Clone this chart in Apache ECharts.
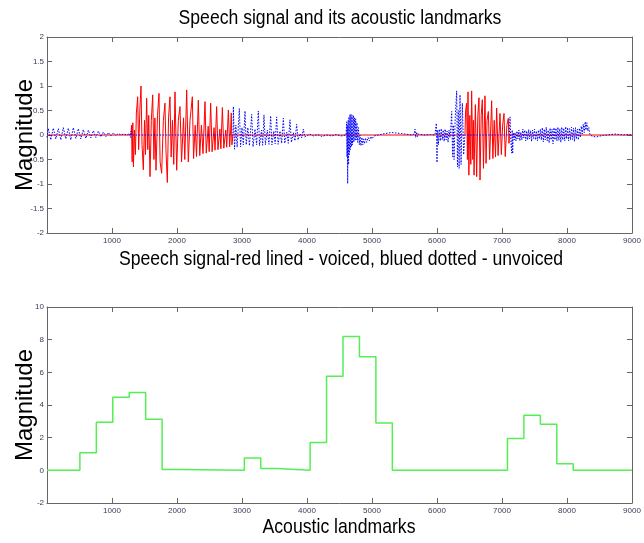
<!DOCTYPE html>
<html lang="en">
<head>
    <meta charset="UTF-8">
    <title>Speech signal and its acoustic landmarks</title>
    <style>
        html, body { margin: 0; padding: 0; background: #fff; }
    </style>
</head>
<body>
    <div id="card" style="width: 644px;height:543px;"></div>
    <script src="https://cdn.jsdelivr.net/npm/echarts@6/dist/echarts.min.js"></script>
    <script>
        // axis ticks
        var xTicks = [0, 1000, 2000, 3000, 4000, 5000, 6000, 7000, 8000, 9000];
        var signalTicks = [-2, -1.5, -1, -0.5, 0, 0.5, 1, 1.5, 2];
        var landmarkTicks = [-2, 0, 2, 4, 6, 8, 10];

        // voiced part of the signal (red line), [sample, magnitude]
        var voiced = [
            [0, 0], [1292, 0],
            [1300, 0.2], [1310, -0.55], [1320, 0.25], [1330, -0.65], [1345, 0.1], [1360, -0.4],
            [1375, 0.45], [1395, 0.78], [1410, -0.3], [1430, 0.55], [1446, 1.0], [1462, -0.2],
            [1482, -0.71], [1500, 0.3], [1515, -0.4], [1533, 0.75], [1550, -0.3], [1565, 0.4],
            [1585, -0.85], [1605, 0.3], [1626, 0.82], [1645, -0.5], [1660, 0.35], [1677, -0.72],
            [1700, 0.4], [1723, 0.85], [1740, -0.55], [1764, -0.78], [1790, 0.3], [1815, 0.65],
            [1830, -0.3], [1851, -0.97], [1870, 0.35], [1892, 0.78], [1910, -0.45], [1930, 0.3],
            [1950, -0.6], [1969, 0.88], [1995, -0.72], [2020, 0.3], [2046, 0.58], [2070, -0.55],
            [2100, 0.35], [2120, -0.5], [2149, 0.92], [2174, -0.55], [2200, 0.3], [2236, 0.78],
            [2255, -0.48], [2280, 0.2], [2300, -0.44], [2328, 0.71], [2350, -0.42], [2375, 0.2],
            [2400, -0.38], [2431, 0.68], [2450, -0.37], [2480, 0.18], [2495, -0.34], [2518, 0.65],
            [2540, -0.34], [2570, 0.15], [2585, -0.31], [2610, 0.58], [2630, -0.3], [2660, 0.12],
            [2675, -0.28], [2698, 0.56], [2720, -0.27], [2750, 0.1], [2765, -0.25], [2790, 0.51],
            [2810, -0.24], [2825, 0.1], [2835, 0.45], [2845, -0.2], [2860, 0],
            [6430, 0],
            [6440, 0.5], [6456, 0.65], [6468, -0.5], [6477, 0.88], [6490, -0.82], [6505, 0.4],
            [6520, -0.6], [6533, 0.9], [6550, -0.5], [6560, 0.3], [6570, -0.82], [6590, 0.62],
            [6610, -0.85], [6628, 0.4], [6646, 0.76], [6662, -0.92], [6680, 0.4], [6697, 0.72],
            [6715, -0.68], [6738, 0.8], [6755, -0.58], [6770, 0.3], [6790, 0.48], [6810, -0.5],
            [6841, 0.7], [6860, -0.48], [6880, 0.3], [6900, -0.45], [6918, 0.55], [6940, -0.42],
            [6969, 0.44], [6990, -0.4], [7010, 0.2], [7031, 0.44], [7050, -0.44], [7075, 0.2],
            [7097, 0.34], [7108, -0.17], [7113, 0],
            [9000, 0]
        ];

        // unvoiced part of the signal (blue dotted), [sample, magnitude]
        var unvoiced = [
            [0, -0.05], [20, 0.13], [58, -0.1], [97, 0.14], [135, -0.08], [174, 0.13], [212, -0.1],
            [251, 0.15], [290, -0.08], [328, 0.14], [366, -0.1], [405, 0.15], [444, -0.07],
            [482, 0.13], [520, -0.08], [559, 0.11], [598, -0.07], [636, 0.1], [675, -0.06],
            [713, 0.09], [752, -0.05], [790, 0.08], [829, -0.04], [867, 0.06], [906, -0.03],
            [944, 0.05], [983, -0.02], [1021, 0.04], [1060, -0.01], [1097, 0.03], [1136, 0],
            [1174, 0.02], [1230, 0], [1270, 0.03], [1285, -0.05], [1292, 0.08], [1300, 0],
            [2862, 0],
            [2867, 0.58], [2885, -0.29], [2905, 0.2], [2925, -0.25], [2959, 0.54], [2978, -0.24],
            [3000, 0.15], [3020, -0.2], [3046, 0.49], [3065, -0.2], [3090, 0.15], [3115, -0.22],
            [3149, 0.42], [3170, -0.24], [3200, 0.12], [3225, -0.2], [3251, 0.49], [3270, -0.22],
            [3300, 0.1], [3318, -0.21], [3338, 0.41], [3360, -0.2], [3390, 0.1], [3415, -0.19],
            [3441, 0.39], [3460, -0.2], [3490, 0.08], [3510, -0.18], [3533, 0.37], [3555, -0.19],
            [3585, 0.08], [3610, -0.17], [3636, 0.34], [3658, -0.17], [3690, 0.06], [3712, -0.17],
            [3738, 0.31], [3760, -0.15], [3790, 0.05], [3815, -0.12], [3841, 0.22], [3862, -0.1],
            [3895, 0.03], [3920, -0.06], [3944, 0.12], [3965, -0.04],
            [3990, -0.03], [4040, 0.02], [4100, -0.02], [4160, 0.01], [4230, -0.03], [4300, 0],
            [4380, -0.02], [4450, 0.01], [4520, -0.02], [4600, 0],
            [4610, 0.27], [4615, -0.45], [4620, 0.2], [4626, -0.99], [4632, 0.3], [4640, -0.6],
            [4646, 0.37], [4652, -0.4], [4662, 0.42], [4668, -0.3], [4677, 0.42], [4684, -0.24],
            [4693, 0.4], [4700, -0.2], [4713, 0.4], [4720, -0.15], [4732, 0.35], [4740, -0.12],
            [4749, 0.33], [4758, -0.1], [4768, 0.25], [4780, -0.15], [4792, 0.15], [4805, -0.2],
            [4815, 0.0], [4830, -0.22], [4845, -0.05], [4858, -0.2], [4870, -0.08], [4885, -0.18],
            [4900, -0.06], [4918, -0.15], [4940, -0.05], [4960, -0.12], [4980, -0.03], [5000, -0.08],
            [5030, -0.02], [5060, -0.05], [5097, 0], [5200, 0.03], [5303, 0.05], [5450, 0.03],
            [5560, 0.01], [5610, 0], [5650, 0.02], [5662, 0.12], [5672, -0.05], [5687, 0.06],
            [5700, -0.03], [5713, 0.02], [5800, 0], [5900, 0.01], [5969, 0],
            [5990, 0.24], [6000, -0.56], [6010, 0.1], [6021, -0.2], [6035, 0.12], [6050, -0.12],
            [6065, 0.13], [6080, -0.1], [6095, 0.1], [6110, -0.13], [6125, 0.12], [6140, -0.1],
            [6155, 0.08], [6170, -0.15], [6185, 0.1], [6200, -0.05], [6215, 0.2], [6226, 0.48],
            [6240, -0.44], [6251, 0.2], [6262, -0.5], [6280, 0.35], [6303, 0.9], [6315, -0.65],
            [6328, 0.5], [6340, -0.68], [6354, 0.82], [6370, -0.6], [6390, 0.65], [6410, -0.4],
            [6430, 0],
            [7113, 0],
            [7123, 0.37], [7135, -0.1], [7149, -0.37], [7157, 0.1], [7164, -0.38], [7175, 0.05],
            [7190, -0.1], [7200, 0.05], [7215, -0.12], [7230, 0.08], [7245, -0.08], [7260, 0.1],
            [7275, -0.12], [7290, 0.06], [7305, -0.1], [7320, 0.12], [7335, -0.06], [7350, 0.1],
            [7365, -0.12], [7380, 0.08], [7395, -0.1], [7410, 0.11], [7425, -0.08], [7440, 0.09],
            [7455, -0.13], [7470, 0.1], [7485, -0.07], [7500, 0.12], [7515, -0.1], [7530, 0.08],
            [7545, -0.12], [7560, 0.1], [7575, -0.08], [7590, 0.12], [7605, -0.1], [7620, 0.15],
            [7635, -0.14], [7650, 0.12], [7665, -0.1], [7680, 0.16], [7695, -0.12], [7710, 0.1],
            [7725, -0.16], [7740, 0.14], [7755, -0.1], [7770, 0.12], [7785, -0.18], [7800, 0.15],
            [7815, -0.1], [7830, 0.14], [7845, -0.12], [7860, 0.16], [7875, -0.11], [7890, 0.13],
            [7905, -0.15], [7920, 0.16], [7935, -0.1], [7950, 0.14], [7965, -0.12], [7980, 0.17],
            [7995, -0.08], [8010, 0.15], [8025, -0.12], [8040, 0.13], [8055, -0.1], [8070, 0.16],
            [8085, -0.09], [8100, 0.14], [8115, -0.13], [8130, 0.15], [8145, -0.08], [8160, 0.12],
            [8175, -0.1], [8190, 0.14], [8205, -0.05], [8220, 0.18], [8235, 0.02], [8250, 0.22],
            [8265, 0.05], [8280, 0.27], [8292, 0.1], [8305, 0.25], [8320, 0.08], [8335, 0.15],
            [8354, 0], [8400, -0.03], [8450, -0.04], [8508, -0.02], [8560, -0.01], [8620, 0],
            [8680, 0.01], [8738, 0.02], [8800, 0.01], [8870, 0], [8940, 0.01], [9000, 0]
        ];

        // acoustic landmarks (stairs), bin start and level
        var landmarkX = [0, 506, 759, 1012, 1265, 1518, 1771, 2024, 3036, 3289, 3542, 4048, 4301,
            4554, 4807, 5060, 5313, 7084, 7337, 7590, 7843, 8096, 9000];
        var landmarkY = [0, 1.07, 2.94, 4.48, 4.77, 3.13, 0.05, 0, 0.76, 0.11, 0, 1.71, 5.76,
            8.19, 6.95, 2.9, 0, 1.95, 3.37, 2.82, 0.41, 0, 0];

        var landmarks = landmarkX.map(function (x, i) { return [x, landmarkY[i]]; });

        var labelColor = '#3a3a5a';
        var boxColor = '#666';

        function xAxisOf(grid, pos, showLabel) {
            return {
                type: 'value', gridIndex: grid, position: pos,
                min: xTicks[0], max: xTicks[xTicks.length - 1], interval: 1000,
                axisLine: { show: true, onZero: false, lineStyle: { color: boxColor, width: 1 } },
                axisTick: { show: true, inside: true, length: 5, lineStyle: { color: boxColor } },
                axisLabel: {
                    show: showLabel, color: labelColor, fontSize: 8, margin: 4,
                    fontFamily: 'Liberation Sans',
                    formatter: function (v) { return v === 0 ? '' : String(v); }
                },
                splitLine: { show: false }
            };
        }

        function yAxisOf(grid, pos, ticks, step, showLabel) {
            return {
                type: 'value', gridIndex: grid, position: pos,
                min: ticks[0], max: ticks[ticks.length - 1], interval: step,
                axisLine: { show: true, onZero: false, lineStyle: { color: boxColor, width: 1 } },
                axisTick: { show: true, inside: true, length: 5, lineStyle: { color: boxColor } },
                axisLabel: {
                    show: showLabel, color: labelColor, fontSize: 8, margin: 3,
                    fontFamily: 'Liberation Sans'
                },
                splitLine: { show: false }
            };
        }

        function txt(x, y, text, size, rot, sx) {
            return {
                type: 'text', x: x, y: y, rotation: rot || 0, scaleX: sx || 1, silent: true,
                style: {
                    text: text, fill: '#000', font: size + 'px "Liberation Sans"',
                    textAlign: 'center', textVerticalAlign: 'middle'
                }
            };
        }

        var option = {
            backgroundColor: '#fff',
            animation: false,
            grid: [
                { left: 47, right: 12, top: 37, height: 196 },
                { left: 47, right: 12, top: 307, height: 196 }
            ],
            xAxis: [
                xAxisOf(0, 'bottom', true),
                xAxisOf(0, 'top', false),
                xAxisOf(1, 'bottom', true),
                xAxisOf(1, 'top', false)
            ],
            yAxis: [
                yAxisOf(0, 'left', signalTicks, 0.5, true),
                yAxisOf(0, 'right', signalTicks, 0.5, false),
                yAxisOf(1, 'left', landmarkTicks, 2, true),
                yAxisOf(1, 'right', landmarkTicks, 2, false)
            ],
            graphic: [
                txt(340, 18, 'Speech signal and its acoustic landmarks', 20, 0, 0.88),
                txt(341, 259, 'Speech signal-red lined - voiced, blued dotted - unvoiced', 21, 0, 0.84),
                txt(339, 527, 'Acoustic landmarks', 21, 0, 0.84),
                txt(25, 135, 'Magnitude', 24, Math.PI / 2, 1),
                txt(25, 405, 'Magnitude', 24, Math.PI / 2, 1)
            ],
            series: [
                {
                    name: 'voiced', type: 'line', xAxisIndex: 0, yAxisIndex: 0,
                    showSymbol: false, silent: true,
                    lineStyle: { color: '#ff0000', width: 1 },
                    data: voiced
                },
                {
                    name: 'unvoiced', type: 'line', xAxisIndex: 0, yAxisIndex: 0,
                    showSymbol: false, silent: true,
                    lineStyle: { color: '#0000ff', width: 1, type: [1.5, 1.5] },
                    data: unvoiced
                },
                {
                    name: 'landmarks', type: 'line', xAxisIndex: 2, yAxisIndex: 2,
                    step: 'end', showSymbol: false, silent: true,
                    lineStyle: { color: '#55ee55', width: 1.5 },
                    data: landmarks
                }
            ]
        };

        var myChart = echarts.init(document.getElementById('card'));
        myChart.setOption(option);
    </script>
</body>
</html>
